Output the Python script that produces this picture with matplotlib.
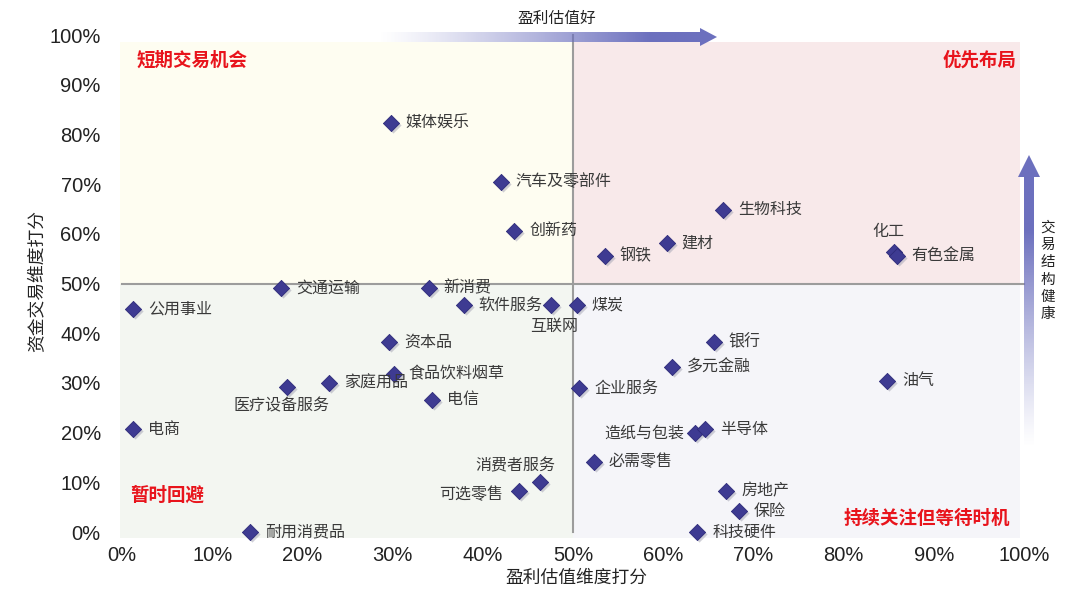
import numpy as np
import matplotlib
matplotlib.use("Agg")
import matplotlib.pyplot as plt
from matplotlib.patches import Polygon, Rectangle
from matplotlib.transforms import offset_copy

plt.rcParams['font.family'] = ['Noto Sans CJK SC', 'DejaVu Sans']

# ---------------- data ----------------
sectors = ["媒体娱乐", "汽车及零部件", "创新药", "钢铁", "建材", "生物科技", "化工", "有色金属",
           "交通运输", "新消费", "公用事业", "软件服务", "互联网", "煤炭", "资本品", "食品饮料烟草",
           "家庭用品", "医疗设备服务", "电信", "电商", "消费者服务", "可选零售", "耐用消费品",
           "企业服务", "银行", "多元金融", "油气", "造纸与包装", "半导体", "必需零售",
           "房地产", "保险", "科技硬件"]
profit_score = [29.8, 42.0, 43.5, 53.5, 60.4, 66.6, 85.6, 85.9,
                17.6, 34.0, 1.2, 37.9, 47.6, 50.4, 29.6, 30.1,
                23.0, 18.3, 34.4, 1.2, 46.3, 44.0, 14.2,
                50.7, 65.6, 61.0, 84.8, 63.5, 64.6, 52.3,
                67.0, 68.4, 63.8]
fund_score = [82.3, 70.4, 60.6, 55.5, 58.1, 64.8, 56.4, 55.6,
              49.1, 49.1, 44.9, 45.7, 45.7, 45.7, 38.2, 31.8,
              30.0, 29.2, 26.6, 20.7, 10.1, 8.2, 0.0,
              29.0, 38.2, 33.2, 30.4, 19.9, 20.7, 14.1,
              8.2, 4.2, 0.0]
tick_vals = [0, 10, 20, 30, 40, 50, 60, 70, 80, 90, 100]
tick_labels = [f"{v}%" for v in tick_vals]
quadrant_names = ["短期交易机会", "优先布局", "暂时回避", "持续关注但等待时机"]

# ---------------- style: label offsets (pixels) ----------------
label_style = {
    "互联网": ((3, -22), "center"),
    "医疗设备服务": ((-6, -19), "center"),
    "化工": ((-6, 20), "center"),
    "消费者服务": ((-24, 16), "center"),
    "可选零售": ((-16, -3), "right"),
    "造纸与包装": ((-11, 0), "right"),
}
default_style = ((15, 0), "left")

W, H = 1080, 597
fig = plt.figure(figsize=(W / 100, H / 100), dpi=100)
fig.patch.set_facecolor("white")

# axes geometry in pixels
x0_px, x100_px = 122, 1024
y0_px, y100_px = 532, 35
xlo, xhi = -0.5, 100.5
ylo, yhi = -1.5, 101.5
ppx = (x100_px - x0_px) / 100.0
ppy = (y0_px - y100_px) / 100.0
left = x0_px + xlo * ppx
right = x0_px + xhi * ppx
bottom = y0_px - ylo * ppy
top = y0_px - yhi * ppy
ax = fig.add_axes([left / W, 1 - bottom / H, (right - left) / W, (bottom - top) / H])
ax.set_xlim(xlo, xhi)
ax.set_ylim(ylo, yhi)
ax.set_facecolor("white")
for s in ax.spines.values():
    s.set_visible(False)

# quadrant shading
sh_bot, sh_top, sh_left, sh_right = -1.2, 98.5, -0.2, 99.6
ax.add_patch(Rectangle((sh_left, 50), 50 - sh_left, sh_top - 50, color="#FEFDF1", zorder=0, lw=0))
ax.add_patch(Rectangle((50, 50), sh_right - 50, sh_top - 50, color="#F8E9EA", zorder=0, lw=0))
ax.add_patch(Rectangle((sh_left, sh_bot), 50 - sh_left, 50 - sh_bot, color="#F3F6F1", zorder=0, lw=0))
ax.add_patch(Rectangle((50, sh_bot), sh_right - 50, 50 - sh_bot, color="#F5F5F9", zorder=0, lw=0))

# dividers
ax.plot([0, 100], [50, 50], color="#9C9C9C", lw=1.5, zorder=1)
ax.plot([50, 50], [0, 100], color="#9C9C9C", lw=1.5, zorder=1)

# ticks
ax.set_xticks(tick_vals)
ax.set_xticklabels(tick_labels)
ax.set_yticks(tick_vals)
ax.set_yticklabels(tick_labels)
ax.tick_params(length=0, labelsize=14.5, colors="#222222", pad=5)
ax.tick_params(axis="y", pad=12)
for lab in ax.get_xticklabels() + ax.get_yticklabels():
    lab.set_fontfamily(["Liberation Sans", "DejaVu Sans"])

# markers with shadow
shadow_tr = offset_copy(ax.transData, fig=fig, x=2, y=-2, units="dots")
ax.scatter(profit_score, fund_score, marker="D", s=68, color="#A9A9B8", alpha=0.55,
           transform=shadow_tr, zorder=3, lw=0, clip_on=False)
ax.scatter(profit_score, fund_score, marker="D", s=68, color="#3E3B92", zorder=4,
           lw=0.6, edgecolors="#2E2B7A", clip_on=False)

for name, xv, yv in zip(sectors, profit_score, fund_score):
    (dx, dy), ha = label_style.get(name, default_style)
    ax.annotate(name, (xv, yv), xytext=(dx, dy), textcoords="offset pixels",
                ha=ha, va="center", fontsize=11.5, color="#3A3A3A", zorder=5)

# quadrant titles
red = "#E8141C"
ax.text(1.6, 95, quadrant_names[0], color=red, fontsize=13.3, fontweight="bold", ha="left", va="center")
ax.text(99.2, 95, quadrant_names[1], color=red, fontsize=13.3, fontweight="bold", ha="right", va="center")
ax.text(0.9, 7.4, quadrant_names[2], color=red, fontsize=13.3, fontweight="bold", ha="left", va="center")
ax.text(98.5, 2.8, quadrant_names[3], color=red, fontsize=13.3, fontweight="bold", ha="right", va="center")

# axis titles
fig.text(576 / W, 1 - 578 / H, "盈利估值维度打分", ha="center", va="center", fontsize=12.8, color="#222222")
fig.text(37 / W, 1 - 281 / H, "资金交易维度打分", ha="center", va="center", fontsize=12.8,
         color="#222222", rotation=90)

# overlay for gradient arrows
ov = fig.add_axes([0, 0, 1, 1], zorder=10)
ov.set_xlim(0, W)
ov.set_ylim(H, 0)
ov.axis("off")
ov.patch.set_alpha(0)

arrow_rgb = np.array([108, 112, 190]) / 255.0

# top arrow (horizontal)
tx0, tx1, tyc = 378, 717, 37
hx = 700
poly_top = Polygon([(tx0, tyc - 5), (hx, tyc - 5), (hx, tyc - 9), (tx1, tyc), (hx, tyc + 9),
                    (hx, tyc + 5), (tx0, tyc + 5)], closed=True, facecolor="none", edgecolor="none")
ov.add_patch(poly_top)
n = 256
alpha = np.clip(np.linspace(0, 1.25, n), 0, 1) ** 1.2
img = np.zeros((2, n, 4))
img[..., :3] = arrow_rgb
img[..., 3] = alpha
im = ov.imshow(img, extent=(tx0, tx1, tyc + 10, tyc - 10), aspect="auto", interpolation="bilinear", zorder=11)
im.set_clip_path(poly_top)
ov.text(557, 18, "盈利估值好", ha="center", va="center", fontsize=11.3, color="#222222")

# right arrow (vertical)
rxc, ry_top, ry_head, ry_bot = 1029, 155, 177, 448
poly_r = Polygon([(rxc - 5, ry_bot), (rxc - 5, ry_head), (rxc - 11, ry_head), (rxc, ry_top),
                  (rxc + 11, ry_head), (rxc + 5, ry_head), (rxc + 5, ry_bot)], closed=True,
                 facecolor="none", edgecolor="none")
ov.add_patch(poly_r)
alpha_v = np.clip(np.linspace(1.35, 0, n), 0, 1) ** 1.2
imgv = np.zeros((n, 2, 4))
imgv[..., :3] = arrow_rgb
imgv[..., 3] = alpha_v[:, None]
imv = ov.imshow(imgv, extent=(rxc - 12, rxc + 12, ry_bot, ry_top), aspect="auto",
                interpolation="bilinear", zorder=11)
imv.set_clip_path(poly_r)
ov.text(1048, 271, "\n".join("交易结构健康"), ha="center", va="center", fontsize=10.5,
        color="#222222", linespacing=1.3)

fig.savefig("out.png", dpi=100, facecolor="white")
